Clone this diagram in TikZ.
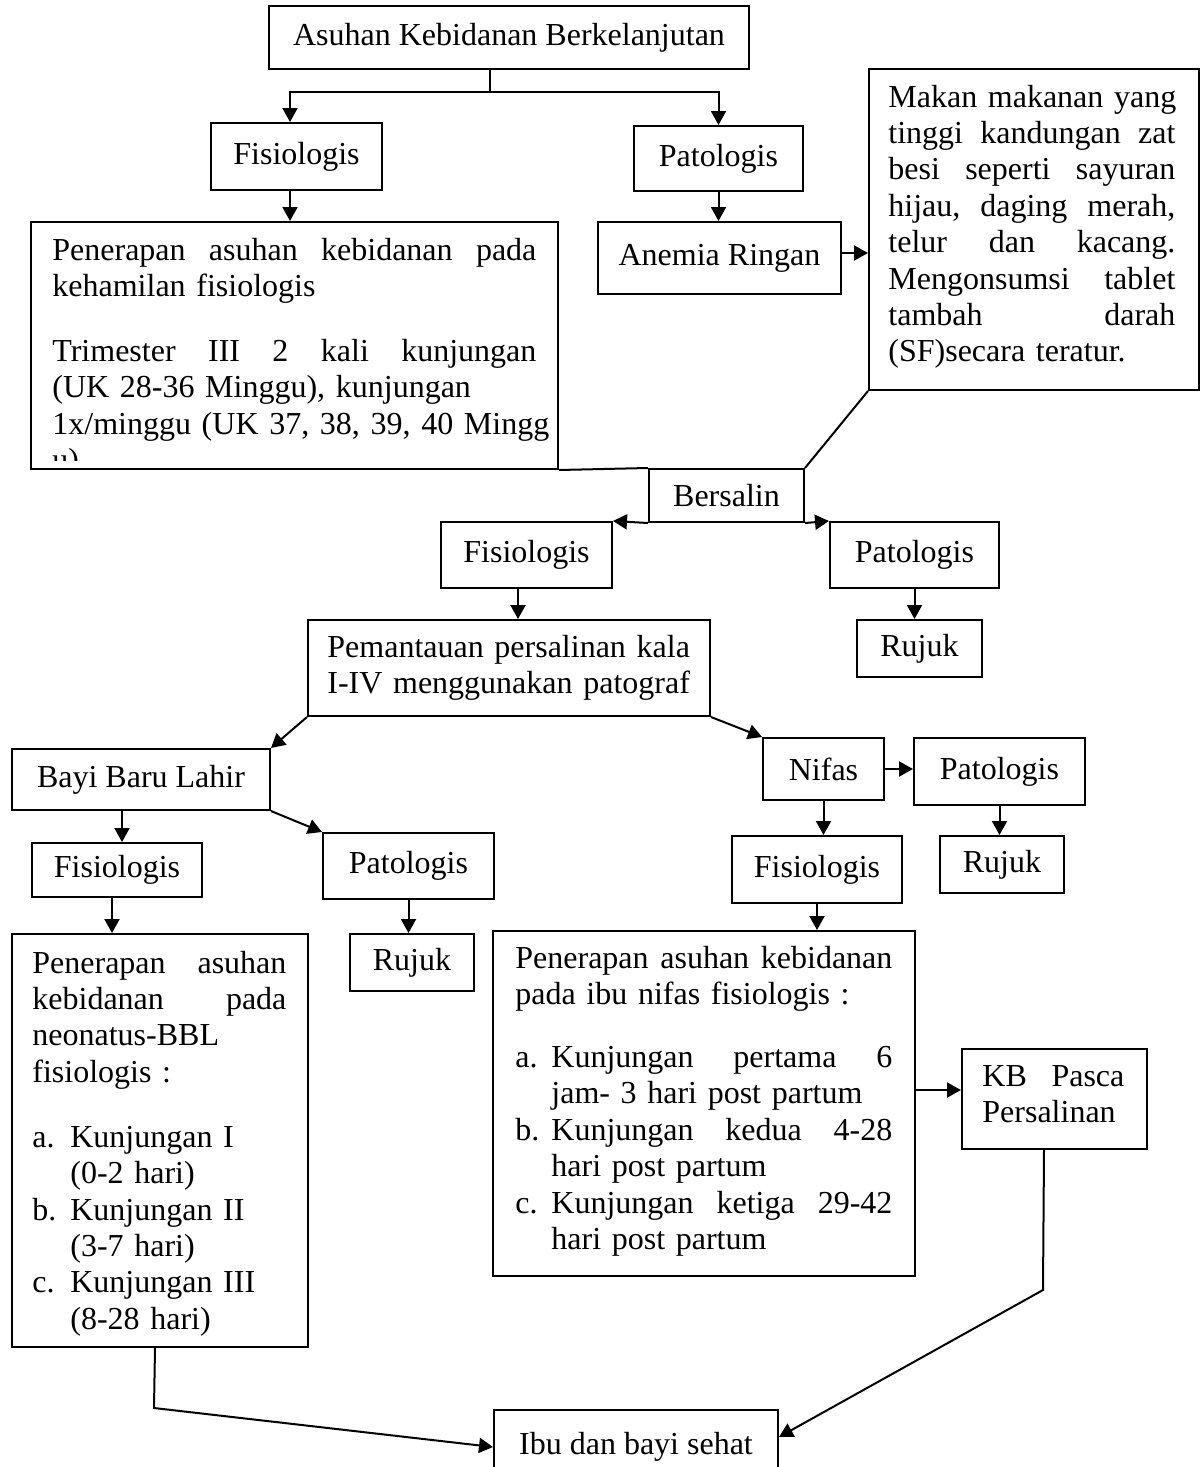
\documentclass[tikz,border=0pt]{standalone}
\usepackage{fontspec}
\setmainfont{Liberation Serif}
\usetikzlibrary{arrows.meta,calc}
\newcommand{\justline}[2]{\leavevmode\hbox to #1{#2}}

\begin{document}
\begin{tikzpicture}[x=0.5pt,y=0.5pt,yscale=-1,xscale=1,
    every node/.style={font=\fontsize{16pt}{18.2pt}\selectfont},
    box/.style={draw, line width=1pt, inner sep=0pt, anchor=north west},
    txt/.style={anchor=base west, inner sep=0pt},
    ln/.style={line width=1pt},
    arr/.style={line width=1pt, -{Triangle[length=7pt,width=7.5pt]}}]
    \useasboundingbox (0,0) rectangle (1202,1467);
    \clip (0,0) rectangle (1202,1467);

    %Shape: Rectangle [top]
    \node[box, minimum width=240pt, minimum height=31.5pt] (top) at (268,5) {Asuhan Kebidanan Berkelanjutan};
    %Shape: Rectangle [kehamilan]
    \node[box, minimum width=85.5pt, minimum height=33.5pt] (fis1) at (210,122) {Fisiologis};
    \node[box, minimum width=84.5pt, minimum height=32.5pt] (pat1) at (633,125) {Patologis};
    \node[box, minimum width=263.5pt, minimum height=123.5pt] (keh) at (30,221) {};
    \node[box, minimum width=121.5pt, minimum height=36pt] (anemia) at (597,221) {Anemia Ringan};
    \node[box, minimum width=165pt, minimum height=160.5pt] (makan) at (868,68) {};
    %Shape: Rectangle [persalinan]
    \node[box, minimum width=77.5pt, minimum height=26.5pt] (bersalin) at (648,468) {Bersalin};
    \node[box, minimum width=85.5pt, minimum height=33pt] (fis2) at (440,521) {Fisiologis};
    \node[box, minimum width=84.5pt, minimum height=33pt] (pat2) at (829,521) {Patologis};
    \node[box, minimum width=62.5pt, minimum height=28.5pt] (rujuk1) at (856,619) {Rujuk};
    \node[box, minimum width=201pt, minimum height=48pt] (pem) at (307,619) {};
    %Shape: Rectangle [bayi baru lahir]
    \node[box, minimum width=129pt, minimum height=30.5pt] (bayi) at (11,748) {Bayi Baru Lahir};
    \node[box, minimum width=85pt, minimum height=27pt] (fis3) at (31,842) {Fisiologis};
    \node[box, minimum width=85.5pt, minimum height=33pt] (pat3) at (322,832) {Patologis};
    \node[box, minimum width=62pt, minimum height=28.5pt] (rujuk2) at (349,933) {Rujuk};
    \node[box, minimum width=148pt, minimum height=206.5pt] (neo) at (11,933) {};
    %Shape: Rectangle [nifas]
    \node[box, minimum width=60.5pt, minimum height=31pt] (nifas) at (762,737) {Nifas};
    \node[box, minimum width=85.5pt, minimum height=33.5pt] (pat4) at (913,737) {Patologis};
    \node[box, minimum width=62pt, minimum height=28.5pt] (rujuk3) at (939,835) {Rujuk};
    \node[box, minimum width=85pt, minimum height=33.5pt] (fis4) at (731,835) {Fisiologis};
    \node[box, minimum width=211pt, minimum height=172.5pt] (nif) at (492,930) {};
    \node[box, minimum width=92.5pt, minimum height=50pt] (kb) at (961,1048) {};
    \node[box, minimum width=142pt, minimum height=37pt] (ibu) at (493,1409) {Ibu dan bayi sehat};

    % Text Node
    \begin{scope}
    \clip (30,221) rectangle (557,460);
    \node[txt, text width=242pt] (kehtxt) at (52,260) {\justline{242pt}{Penerapan \hfill asuhan \hfill kebidanan \hfill pada}\\
    kehamilan fisiologis\\[14.3pt]
    \justline{242pt}{Trimester \hfill III \hfill 2 \hfill kali \hfill kunjungan}\\
    \mbox{(UK 28-36 Minggu), kunjungan}\\
    \mbox{1x/minggu (UK 37, 38, 39, 40 Mingg}\\
    u)};
    \end{scope}
    % Text Node
    \node[txt, text width=143.5pt] (makantxt) at (888,107) {\justline{143.5pt}{Makan \hfill makanan \hfill yang}\\
    \justline{143.5pt}{tinggi \hfill kandungan \hfill zat}\\
    \justline{143.5pt}{besi \hfill seperti \hfill sayuran}\\
    \justline{143.5pt}{hijau, \hfill daging \hfill merah,}\\
    \justline{143.5pt}{telur \hfill dan \hfill kacang.}\\
    \justline{143.5pt}{Mengonsumsi \hfill tablet}\\
    \justline{143.5pt}{tambah \hfill darah}\\
    (SF)secara teratur.};
    % Text Node
    \node[txt, text width=182pt] (pemtxt) at (327,657) {\mbox{Pemantauan persalinan kala}\\
    \mbox{I-IV menggunakan patograf}};
    % Text Node
    \node[txt, text width=127pt] (neotxt) at (32,973) {\justline{127pt}{Penerapan \hfill asuhan}\\
    \justline{127pt}{kebidanan \hfill pada}\\
    neonatus-BBL\\
    fisiologis :\\[14.3pt]
    \makebox[19pt][l]{a.}Kunjungan I\\
    \hspace*{19pt}(0-2 hari)\\
    \makebox[19pt][l]{b.}Kunjungan II\\
    \hspace*{19pt}(3-7 hari)\\
    \makebox[19pt][l]{c.}Kunjungan III\\
    \hspace*{19pt}(8-28 hari)};
    % Text Node
    \node[txt, text width=188.5pt] (niftxt) at (515,968) {\justline{188.5pt}{Penerapan \hfill asuhan \hfill kebidanan}\\
    pada ibu nifas fisiologis :\\[13.3pt]
    \makebox[18pt][l]{a.}\justline{170.5pt}{Kunjungan \hfill pertama \hfill 6}\\
    \hspace*{18pt}jam- 3 hari post partum\\
    \makebox[18pt][l]{b.}\justline{170.5pt}{Kunjungan \hfill kedua \hfill 4-28}\\
    \hspace*{18pt}hari post partum\\
    \makebox[18pt][l]{c.}\justline{170.5pt}{Kunjungan \hfill ketiga \hfill 29-42}\\
    \hspace*{18pt}hari post partum};
    % Text Node
    \node[txt, text width=71pt] (kbtxt) at (982,1086) {\justline{71pt}{KB \hfill Pasca}\\
    Persalinan};

    %Straight Lines [kehamilan]
    \coordinate (split) at (490,92);
    \draw[ln] (top.south -| split) -- (split);
    \draw[arr] (split) -| ($(fis1.north)+(-6.5,0)$);
    \draw[arr] (split) -| (pat1.north);
    \draw[arr] ($(fis1.south)+(-6.5,0)$) -- ($(fis1.south |- keh.north)+(-6.5,0)$);
    \draw[arr] (pat1.south) -- (pat1.south |- anemia.north);
    \draw[arr] ($(anemia.east)+(0,-5)$) -- ($(anemia.east -| makan.west)+(0,-5)$);
    \draw[ln] (makan.south west) -- (bersalin.north east);
    \draw[ln] (keh.south east) -- (bersalin.north west);
    %Straight Lines [persalinan]
    \draw[arr] (bersalin.south west) -- (fis2.north east);
    \draw[arr] (bersalin.south east) -- (pat2.north west);
    \draw[arr] ($(fis2.south)+(-8.5,0)$) -- ($(fis2.south |- pem.north)+(-8.5,0)$);
    \draw[arr] (pat2.south) -- (pat2.south |- rujuk1.north);
    \draw[arr] (pem.south west) -- (bayi.north east);
    \draw[arr] (pem.south east) -- (nifas.north west);
    %Straight Lines [bayi baru lahir]
    \draw[arr] ($(bayi.south)+(-19,0)$) -- ($(bayi.south |- fis3.north)+(-19,0)$);
    \draw[arr] (bayi.south east) -- (pat3.north west);
    \draw[arr] ($(fis3.south)+(-5,0)$) -- ($(fis3.south |- neo.north)+(-5,0)$);
    \draw[arr] (pat3.south) -- (pat3.south |- rujuk2.north);
    %Straight Lines [nifas]
    \draw[arr] (nifas.east) -- (nifas.east -| pat4.west);
    \draw[arr] (nifas.south) -- (nifas.south |- fis4.north);
    \draw[arr] (pat4.south) -- (pat4.south |- rujuk3.north);
    \draw[arr] (fis4.south) -- (fis4.south |- nif.north);
    \draw[arr] ($(kb.west -| nif.east)+(0,-9)$) -- ($(kb.west)+(0,-9)$);
    %Straight Lines [ibu dan bayi sehat]
    \coordinate (kbbend) at (1043,1290);
    \draw[arr] ($(kb.south)+(-10.5,0)$) -- (kbbend) -- ($(ibu.east)+(0,-10)$);
    \coordinate (neobend) at (154,1408);
    \draw[arr] ($(neo.south)+(-5,0)$) -- (neobend) -- (ibu.west);

\end{tikzpicture}
\end{document}
